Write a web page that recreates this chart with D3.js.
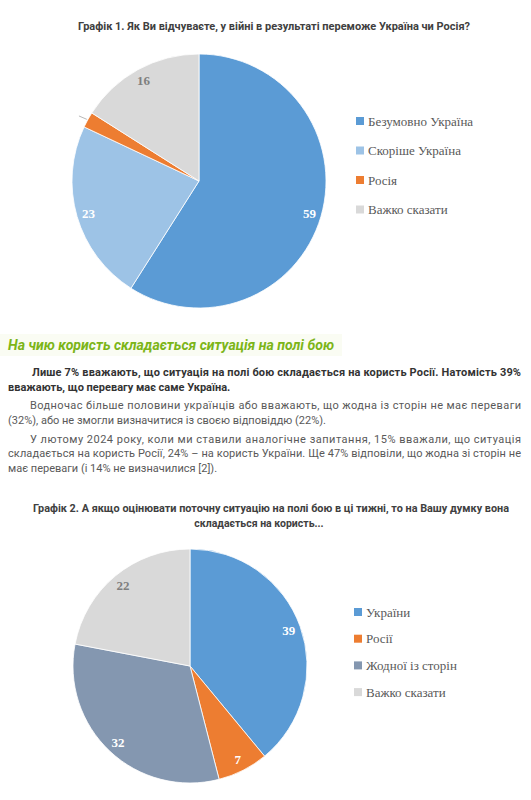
<!DOCTYPE html>
<html><head><meta charset="utf-8">
<script src="https://cdn.jsdelivr.net/npm/d3@7"></script>
<style>html,body{margin:0;padding:0;background:#fff;}svg{display:block;}</style>
</head><body>
<svg id="c" width="531" height="800"></svg>
<script>
// ---- data ----
const chart1Title = "Графік 1. Як Ви відчуваєте, у війні в результаті переможе Україна чи Росія?";
const chart1Categories = ["Безумовно Україна", "Скоріше Україна", "Росія", "Важко сказати"];
const chart1Values = [59, 23, 2, 16];
const chart1Colors = ["#5b9bd5", "#9dc3e6", "#ed7d31", "#d9d9d9"];
const chart1LabelColors = ["#ffffff", "#ffffff", null, "#7f7f7f"];

const chart2TitleLines = ["Графік 2. А якщо оцінювати поточну ситуацію на полі бою в ці тижні, то на Вашу думку вона", "складається на користь..."];
const chart2Categories = ["України", "Росії", "Жодної із сторін", "Важко сказати"];
const chart2Values = [39, 7, 32, 22];
const chart2Colors = ["#5b9bd5", "#ed7d31", "#8497b0", "#d9d9d9"];
const chart2LabelColors = ["#ffffff", "#ffffff", "#ffffff", "#7f7f7f"];

const heading = "На чию користь складається ситуація на полі бою";
const para1Lines = ["Лише 7% вважають, що ситуація на полі бою складається на користь Росії. Натомість 39%", "вважають, що перевагу має саме Україна."];
const para2Lines = ["Водночас більше половини українців або вважають, що жодна із сторін не має переваги", "(32%), або не змогли визначитися із своєю відповіддю (22%)."];
const para3Lines = ["У лютому 2024 року, коли ми ставили аналогічне запитання, 15% вважали, що ситуація", "складається на користь Росії, 24% – на користь України. Ще 47% відповіли, що жодна зі сторін не", "має переваги (і 14% не визначилися [2])."];

// ---- drawing ----
const svg = d3.select("#c");
const sans = "Roboto, 'Open Sans', sans-serif";
const serif = "'Liberation Serif', 'DejaVu Serif', serif";

function pieChart(cfg) {
  const g = svg.append("g").attr("transform", `translate(${cfg.cx},${cfg.cy})`);
  const pie = d3.pie().sort(null).value(d => d)(cfg.values);
  const arc = d3.arc().innerRadius(0).outerRadius(cfg.r);
  const lab = d3.arc().innerRadius(cfg.r - cfg.lOff).outerRadius(cfg.r - cfg.lOff);
  g.selectAll("path").data(pie).join("path")
    .attr("d", arc).attr("fill", (d, i) => cfg.colors[i])
    .attr("stroke", "#fff").attr("stroke-width", 0.8);
  g.selectAll("text").data(pie.filter((d, i) => cfg.labelColors[i]))
    .join("text")
    .attr("transform", d => `translate(${lab.centroid(d)})`)
    .attr("text-anchor", "middle").attr("dy", "0.35em")
    .attr("font-family", serif).attr("font-weight", "bold").attr("font-size", 13)
    .attr("fill", d => cfg.labelColors[d.index])
    .text(d => d.data);
  if (cfg.leader) {
    const d = pie[cfg.leader];
    const a = (d.startAngle + d.endAngle) / 2;
    const p1 = [Math.sin(a) * (cfg.r + 1), -Math.cos(a) * (cfg.r + 1)];
    const p2 = [Math.sin(a) * (cfg.r + 10), -Math.cos(a) * (cfg.r + 8)];
    g.append("line").attr("x1", p1[0]).attr("y1", p1[1]).attr("x2", p2[0]).attr("y2", p2[1])
      .attr("stroke", "#a6a6a6").attr("stroke-width", 0.8);
  }
  const lg = svg.append("g");
  const rows = lg.selectAll("g").data(cfg.cats).join("g")
    .attr("transform", (d, i) => `translate(${cfg.lx},${cfg.ly + i * cfg.lstep})`);
  rows.append("rect").attr("x", 0).attr("y", -4).attr("width", 8).attr("height", 8)
    .attr("fill", (d, i) => cfg.colors[i]);
  rows.append("text").attr("x", 12).attr("dy", "0.35em")
    .attr("font-family", serif).attr("font-size", 13).attr("fill", "#595959")
    .text(d => d);
}

// Title 1
svg.append("text").attr("x", 78).attr("y", 30).attr("textLength", 392).attr("lengthAdjust", "spacingAndGlyphs")
  .attr("font-family", sans).attr("font-weight", "bold").attr("font-size", 10.5).attr("fill", "#404040")
  .text(chart1Title);

pieChart({cx: 199, cy: 181, r: 127, lOff: 12, values: chart1Values, colors: chart1Colors,
  labelColors: chart1LabelColors, cats: chart1Categories, lx: 356, ly: 121, lstep: 29.5, leader: 2});

// Heading with faint highlight
svg.append("rect").attr("x", 0).attr("y", 334).attr("width", 342).attr("height", 22).attr("fill", "#fafcf3");
svg.append("text").attr("x", 8).attr("y", 350).attr("textLength", 326).attr("lengthAdjust", "spacingAndGlyphs")
  .attr("font-family", sans).attr("font-weight", "bold").attr("font-style", "italic")
  .attr("font-size", 14).attr("fill", "#7cb518").text(heading);

function para(lines, y0, opts) {
  lines.forEach((t, i) => {
    const x = i === 0 ? opts.indent : 8;
    const last = i === lines.length - 1;
    const tx = svg.append("text").attr("x", x).attr("y", y0 + i * opts.lh)
      .attr("font-family", sans).attr("font-size", opts.size)
      .attr("font-weight", opts.bold ? "bold" : "normal").attr("fill", opts.color)
      .text(t);
    if (!last) tx.attr("textLength", 521 - x).attr("lengthAdjust", "spacing");
  });
}
para(para1Lines, 376, {indent: 32, lh: 14.5, size: 11, bold: true, color: "#333333"});
para(para2Lines, 409, {indent: 30, lh: 14.5, size: 11, bold: false, color: "#595959"});
para(para3Lines, 443, {indent: 30, lh: 14.3, size: 11, bold: false, color: "#595959"});

// Title 2
svg.append("text").attr("x", 33).attr("y", 512).attr("textLength", 476).attr("lengthAdjust", "spacingAndGlyphs")
  .attr("font-family", sans).attr("font-weight", "bold").attr("font-size", 10.5).attr("fill", "#404040")
  .text(chart2TitleLines[0]);
svg.append("text").attr("x", 259).attr("y", 527).attr("text-anchor", "middle")
  .attr("font-family", sans).attr("font-weight", "bold").attr("font-size", 10.5).attr("fill", "#404040")
  .text(chart2TitleLines[1]);

pieChart({cx: 190, cy: 666, r: 117, lOff: 12, values: chart2Values, colors: chart2Colors,
  labelColors: chart2LabelColors, cats: chart2Categories, lx: 354, ly: 612, lstep: 26.7});
</script>
</body></html>
